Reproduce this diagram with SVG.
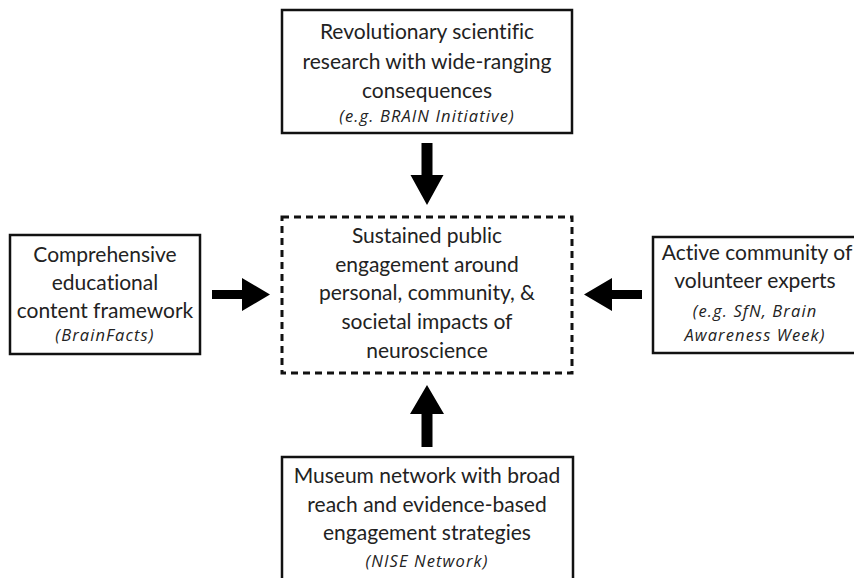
<svg xmlns="http://www.w3.org/2000/svg" width="854" height="578" viewBox="0 0 854 578">
<style>
.box{fill:#fff;stroke:#111;stroke-width:2.5}
.dash{fill:#fff;stroke:#111;stroke-width:3;stroke-dasharray:7 5}
.t{font-family:Lato,"Liberation Sans",sans-serif;font-size:21px;fill:#222;text-anchor:middle;font-variant-ligatures:none}
.i{font-family:"Open Sans","Liberation Sans",sans-serif;font-size:16.5px;letter-spacing:1.1px;font-style:italic;fill:#222;text-anchor:middle}
.arr{fill:#000}
</style>
<rect width="854" height="578" fill="#fff"/>
<g id="top">
<rect class="box" x="282" y="10" width="290" height="123"/>
<text class="t" x="427" y="39">Revolutionary scientific</text>
<text class="t" x="427" y="69">research with wide-ranging</text>
<text class="t" x="427" y="98">consequences</text>
<text class="i" x="427" y="122">(e.g. BRAIN Initiative)</text>
</g>
<g id="left">
<rect class="box" x="10" y="235" width="190" height="119"/>
<text class="t" x="105" y="262">Comprehensive</text>
<text class="t" x="105" y="290">educational</text>
<text class="t" x="105" y="318">content framework</text>
<text class="i" x="105" y="341">(BrainFacts)</text>
</g>
<g id="right">
<rect class="box" x="653" y="237" width="210" height="116"/>
<text class="t" x="757" y="260">Active community of</text>
<text class="t" x="755" y="288">volunteer experts</text>
<text class="i" x="755" y="317">(e.g. SfN, Brain</text>
<text class="i" x="755" y="341">Awareness Week)</text>
</g>
<g id="center">
<rect class="dash" x="282" y="217" width="290" height="156"/>
<text class="t" x="427" y="243">Sustained public</text>
<text class="t" x="427" y="272">engagement around</text>
<text class="t" x="427" y="300">personal, community, &amp;</text>
<text class="t" x="427" y="329">societal impacts of</text>
<text class="t" x="427" y="358">neuroscience</text>
</g>
<g id="bottom">
<rect class="box" x="282" y="457" width="291" height="130"/>
<text class="t" x="427" y="483">Museum network with broad</text>
<text class="t" x="427" y="512">reach and evidence-based</text>
<text class="t" x="427" y="540">engagement strategies</text>
<text class="i" x="427" y="567">(NISE Network)</text>
</g>
<g id="connectors">
<polygon class="arr" points="421.5,143 432.5,143 432.5,175 443.5,175 427,205 410.5,175 421.5,175"/>
<polygon class="arr" points="421.5,447 432.5,447 432.5,414 444,414 427,385 410,414 421.5,414"/>
<polygon class="arr" points="212,290 242,290 242,278 270,294.5 242,311 242,299 212,299"/>
<polygon class="arr" points="642,290 612,290 612,278 584,294.5 612,311 612,299 642,299"/>
</g>
</svg>
